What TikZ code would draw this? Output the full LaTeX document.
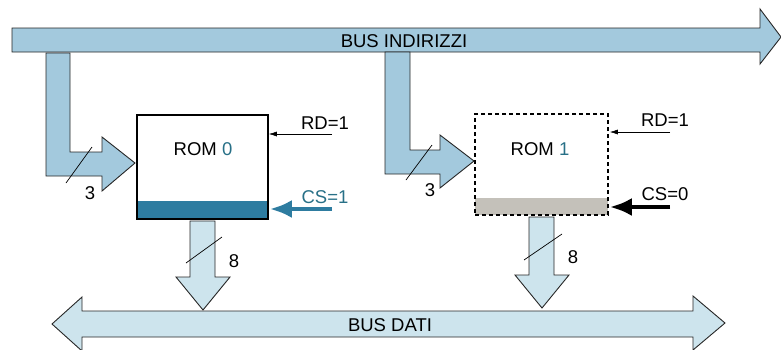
\documentclass[tikz,border=0pt]{standalone}
\usepackage{fontspec}
\setmainfont{Liberation Sans}
\usetikzlibrary{arrows.meta}
\definecolor{busA}{RGB}{163,201,221}
\definecolor{busB}{RGB}{205,228,237}
\definecolor{csblue}{RGB}{46,124,160}
\definecolor{teal0}{RGB}{40,112,135}
\definecolor{strip1}{RGB}{196,193,186}
\tikzset{
  blockarrow/.style={draw=black!85, line width=0.9pt, line join=miter},
  rombox/.style={draw=black, line width=1.6pt, minimum width=#1, minimum height=104pt, inner sep=0pt},
  lbl/.style={font=\fontsize{18.5}{20}\selectfont, inner sep=0pt},
  slash/.style={draw=black, line width=0.7pt},
  sigthin/.style={draw=black, line width=0.6pt, -{Latex[length=8pt,width=5pt]}},
  sigthick/.style={line width=4.5pt, -{Latex[length=22pt,width=18pt]}}
}
\begin{document}
\begin{tikzpicture}[x=1pt,y=-1pt]
\useasboundingbox (0,0) rectangle (781,349);
% top bus
\draw[blockarrow, fill=busA] (12,28) -- (760,28) -- (760,9) -- (781,37) -- (760,64) -- (760,52) -- (12,52) -- cycle;
\node[lbl] (busind) at (404,41) {BUS INDIRIZZI};
% bottom bus
\draw[blockarrow, fill=busB] (82,311) -- (693,311) -- (693,296) -- (725,323) -- (693,350) -- (693,337) -- (82,337) -- (82,351) -- (52,324) -- (82,297) -- cycle;
\node[lbl] (busdati) at (390,325) {BUS DATI};
% ROM 0
\fill[csblue] (137,201) rectangle (268,219);
\node[rombox=131pt, minimum height=104pt] (rom0) at (202.5,167) {};
\node[lbl] (rom0t) at (203,149) {ROM \textcolor{teal0}{0}};
% ROM 1
\fill[strip1] (475,198) rectangle (608,215);
\node[draw=black, line width=1.6pt, dash pattern=on 4pt off 3pt, minimum width=133pt, minimum height=101pt, inner sep=0pt] (rom1) at (541.5,164.5) {};
\node[lbl] (rom1t) at (540,149) {ROM \textcolor{teal0}{1}};
% feed arrows
\draw[blockarrow, fill=busA] (46,53) -- (70,53) -- (70,152) -- (102,152) -- (102,137) -- (135,163) -- (102,191) -- (102,176) -- (46,176) -- cycle;
\draw[slash] (66,183) -- (92,147);
\node[lbl] (n3a) at (90,193) {3};
\draw[blockarrow, fill=busA] (385,52) -- (410,52) -- (410,150) -- (440,150) -- (440,135) -- (474,161) -- (440,188) -- (440,174) -- (385,174) -- cycle;
\draw[slash] (406,180) -- (432,145);
\node[lbl] (n3b) at (430,190) {3};
% down arrows
\draw[blockarrow, fill=busB] (190,221) -- (215,221) -- (215,277) -- (230,277) -- (203,310) -- (176,277) -- (190,277) -- cycle;
\draw[slash] (186,263) -- (222,237);
\node[lbl] (n8a) at (234,261) {8};
\draw[blockarrow, fill=busB] (529,217) -- (554,217) -- (554,275) -- (569,275) -- (542,308) -- (515,275) -- (529,275) -- cycle;
\draw[slash] (524,260) -- (562,234);
\node[lbl] (n8b) at (573,257) {8};
% signals ROM 0
\node[lbl] (rd0) at (325,123) {RD=1};
\coordinate (rd0s) at (332,134);
\draw[sigthin] (rd0s) -- (rd0s -| rom0.east);
\node[lbl, text=teal0] (cs0) at (325,197) {CS=1};
\coordinate (cs0s) at (332,209);
\draw[sigthick, draw=csblue, fill=csblue] (cs0s) -- ([xshift=1pt]cs0s -| rom0.east);
% signals ROM 1
\node[lbl] (rd1) at (665,120) {RD=1};
\coordinate (rd1s) at (670,132);
\draw[sigthin] (rd1s) -- ([xshift=1pt]rd1s -| rom1.east);
\node[lbl] (cs1) at (665,194) {CS=0};
\coordinate (cs1s) at (670,207);
\draw[sigthick, draw=black, fill=black] (cs1s) -- ([xshift=1pt]cs1s -| rom1.east);
\end{tikzpicture}
\end{document}
